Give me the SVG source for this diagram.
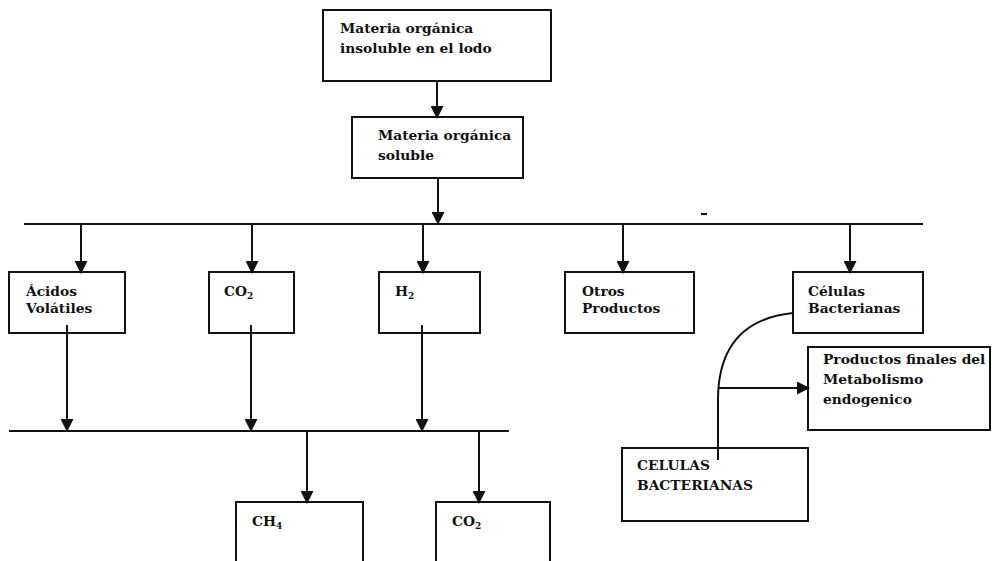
<svg xmlns="http://www.w3.org/2000/svg" width="992" height="561" viewBox="0 0 992 561">
  <defs>
    <marker id="arrow" markerWidth="13" markerHeight="13" refX="12" refY="6.5" orient="auto" markerUnits="userSpaceOnUse">
      <path d="M0,0 L13,6.5 L0,13 Z" fill="#111"/>
    </marker>
    <style>
      .box { fill: #fff; stroke: #111; stroke-width: 2; }
      .lbl { font-family: "DejaVu Serif", "Liberation Serif", serif; font-size: 13.8px; font-weight: bold; fill: #111; }
      .sub { font-size: 9px; }
      .line { stroke: #111; stroke-width: 2; fill: none; }
      .arr { stroke: #111; stroke-width: 2; fill: none; marker-end: url(#arrow); }
    </style>
  </defs>
  <rect width="992" height="561" fill="#fff"/>

  <g id="n-materia-insoluble">
    <rect class="box" x="323" y="10" width="228" height="71"/>
    <text class="lbl" x="340" y="33">Materia orgánica</text>
    <text class="lbl" x="340" y="53">insoluble en el lodo</text>
  </g>
  <g id="n-materia-soluble">
    <rect class="box" x="352" y="117" width="171" height="61"/>
    <text class="lbl" x="378" y="140">Materia orgánica</text>
    <text class="lbl" x="378" y="160">soluble</text>
  </g>

  <g id="n-acidos">
    <rect class="box" x="9" y="272" width="116" height="61"/>
    <text class="lbl" x="26" y="296">Ácidos</text>
    <text class="lbl" x="26" y="313">Volátiles</text>
  </g>
  <g id="n-co2-a">
    <rect class="box" x="209" y="272" width="85" height="61"/>
    <text class="lbl" x="224" y="296">CO<tspan class="sub" dy="3">2</tspan></text>
  </g>
  <g id="n-h2">
    <rect class="box" x="379" y="272" width="101" height="61"/>
    <text class="lbl" x="395" y="296">H<tspan class="sub" dy="3">2</tspan></text>
  </g>
  <g id="n-otros">
    <rect class="box" x="565" y="272" width="129" height="61"/>
    <text class="lbl" x="582" y="296">Otros</text>
    <text class="lbl" x="582" y="313">Productos</text>
  </g>
  <g id="n-celulas">
    <rect class="box" x="793" y="272" width="130" height="61"/>
    <text class="lbl" x="808" y="296">Células</text>
    <text class="lbl" x="808" y="313">Bacterianas</text>
  </g>

  <g id="n-productos-finales">
    <rect class="box" x="808" y="347" width="182" height="83"/>
    <text class="lbl" x="823" y="364">Productos finales del</text>
    <text class="lbl" x="823" y="384">Metabolismo</text>
    <text class="lbl" x="823" y="404">endogenico</text>
  </g>
  <g id="n-celulas-bacterianas">
    <rect class="box" x="622" y="448" width="186" height="73"/>
    <text class="lbl" x="637" y="470">CELULAS</text>
    <text class="lbl" x="637" y="490">BACTERIANAS</text>
  </g>

  <g id="n-ch4">
    <rect class="box" x="236" y="502" width="127" height="70"/>
    <text class="lbl" x="252" y="526">CH<tspan class="sub" dy="3">4</tspan></text>
  </g>
  <g id="n-co2-b">
    <rect class="box" x="436" y="502" width="114" height="70"/>
    <text class="lbl" x="452" y="526">CO<tspan class="sub" dy="3">2</tspan></text>
  </g>

  <!-- connectors are drawn over the boxes so line ends show inside them -->
  <g id="connectors">
    <path class="arr" d="M437,81 V118"/>
    <path class="arr" d="M438,178 V224"/>
    <path class="line" d="M24,224 H923"/>
    <path class="arr" d="M81,224 V273"/>
    <path class="arr" d="M252,224 V273"/>
    <path class="arr" d="M423,224 V273"/>
    <path class="arr" d="M623,224 V273"/>
    <path class="arr" d="M850,224 V273"/>
    <path class="arr" d="M67,325 V431"/>
    <path class="arr" d="M251,325 V431"/>
    <path class="arr" d="M422,325 V431"/>
    <path class="line" d="M9,431 H509"/>
    <path class="arr" d="M307,431 V503"/>
    <path class="arr" d="M479,431 V503"/>
    <path class="line" d="M793,313 C745,318 718,345 718,400 V460"/>
    <path class="arr" d="M719,388 H809"/>
    <path class="line" d="M701,214 H707"/>
  </g>
</svg>
